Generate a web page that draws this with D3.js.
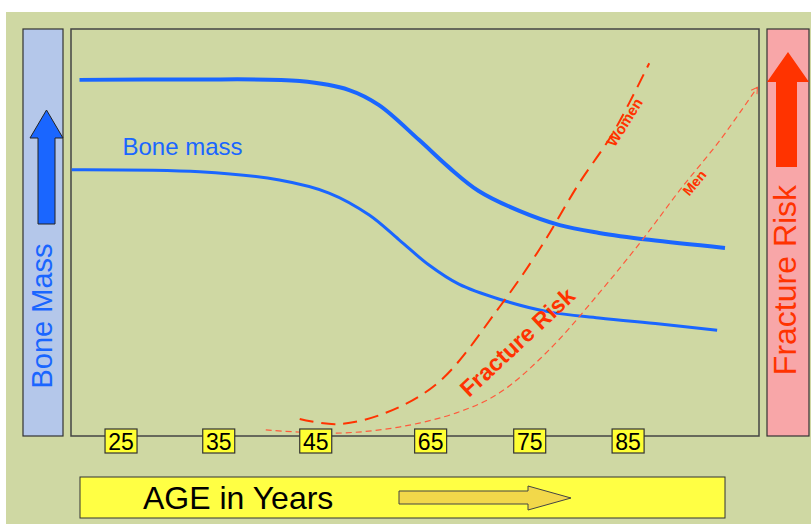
<!DOCTYPE html>
<html>
<head>
<meta charset="utf-8">
<script src="https://cdn.jsdelivr.net/npm/d3@7"></script>
<style>
  body { margin: 0; background: #fff; }
  text { font-family: "Liberation Sans", Arial, sans-serif; }
</style>
</head>
<body>
<div class="mainView"></div>
<script>
// tick labels on the age axis (spacing in the picture is not linear)
let tickAges = [25, 35, 45, 65, 75, 85];

// bone mass curves: [age, relative value 0..100]
let boneHigh = [[20.8,87.5],[32,87.6],[43.4,87.2],[50.9,85.0],[56.1,81.3],[63.1,72.7],[66.9,66.0],[69.9,60.2],[74.0,55.3],[78.1,51.8],[82.1,49.9],[87.2,48.2],[94.9,46.2]];
let boneLow = [[20.0,65.4],[33.1,64.9],[41.3,62.9],[47.4,59.7],[54.4,54.3],[59.6,48.2],[64.8,42.0],[67.9,37.3],[72.0,33.6],[77.0,30.5],[82.1,29.0],[88.3,27.5],[94.1,26.0]];

// fracture risk curves
let riskWomen = [[43.4,4.2],[48.7,2.9],[57.3,5.7],[65.9,13.3],[72.0,31.7],[76.0,45.7],[80.1,62.2],[83.5,74.4],[87.2,91.6]];
let riskMen = [[39.9,1.5],[48.7,0.7],[59.6,2.2],[67.9,5.9],[72.0,10.6],[77.0,21.1],[82.1,35.1],[86.5,48.2],[90.3,60.4],[94.4,72.7],[98.2,85.7]];

function chartConfiguration(){
    let width = 811, height = 524;
    let plot = { left: 71, right: 759, top: 29, bottom: 436 };
    let svg = d3.select(".mainView")
                .append("svg")
                .attr("width", width)
                .attr("height", height);
    return { width, height, plot, svg };
}

function chartScales(config){
    let { plot } = config;
    let w = plot.right - plot.left;
    // piecewise linear: label positions as fractions of plot width
    let xScale = d3.scaleLinear()
        .domain(tickAges)
        .range([0.072, 0.214, 0.355, 0.522, 0.666, 0.809].map(f => plot.left + f*w));
    let yScale = d3.scaleLinear()
        .domain([0, 100])
        .range([plot.bottom, plot.top]);
    return { xScale, yScale };
}

function drawFrame(config){
    let { svg, plot, width, height } = config;
    svg.append("rect")
        .attr("x", 6).attr("y", 12)
        .attr("width", width - 6).attr("height", height - 12)
        .style("fill", "#cfd8a3");

    // left side bar
    svg.append("rect")
        .attr("x", 23).attr("y", plot.top)
        .attr("width", 40).attr("height", plot.bottom - plot.top)
        .style("fill", "#b4c7ea").style("stroke", "#333").style("stroke-width", 1.2);
    svg.append("path")
        .attr("d", "M38,224 L38,138 L30,138 L46.5,110 L63,138 L55,138 L55,224 Z")
        .style("fill", "#1a66ff").style("stroke", "#222").style("stroke-width", 1);
    svg.append("text")
        .attr("transform", "translate(52,316) rotate(-90)")
        .attr("text-anchor", "middle")
        .style("font-size", "29px").style("fill", "#1a66ff")
        .text("Bone Mass");

    // right side bar
    svg.append("rect")
        .attr("x", 767).attr("y", plot.top)
        .attr("width", 42).attr("height", plot.bottom - plot.top)
        .style("fill", "#f8a6a8").style("stroke", "#333").style("stroke-width", 1.2);
    svg.append("path")
        .attr("d", "M776,167 L776,82 L767,82 L788,52 L809,82 L797,82 L797,167 Z")
        .style("fill", "#ff3300");
    svg.append("text")
        .attr("transform", "translate(796,280) rotate(-90)")
        .attr("text-anchor", "middle")
        .style("font-size", "32px").style("fill", "#ff3300")
        .text("Fracture Risk");

    // plot box
    svg.append("rect")
        .attr("x", plot.left).attr("y", plot.top)
        .attr("width", plot.right - plot.left).attr("height", plot.bottom - plot.top)
        .style("fill", "none").style("stroke", "#444").style("stroke-width", 1.5);

    // bottom age banner
    svg.append("rect")
        .attr("x", 80).attr("y", 477).attr("width", 645).attr("height", 41)
        .style("fill", "#ffff44").style("stroke", "#333").style("stroke-width", 1);
    svg.append("text")
        .attr("x", 143).attr("y", 509)
        .style("font-size", "32px").style("fill", "#000")
        .text("AGE in Years");
    svg.append("path")
        .attr("d", "M399,491 L528,491 L528,486 L571,498 L528,510 L528,504 L399,504 Z")
        .style("fill", "#f2d84a").style("stroke", "#444").style("stroke-width", 1);
}

function drawCurves(config, scales){
    let { svg } = config;
    let { xScale, yScale } = scales;
    let line = d3.line()
        .x(d => xScale(d[0]))
        .y(d => yScale(d[1]))
        .curve(d3.curveCatmullRom.alpha(0.5));

    svg.append("defs").append("marker")
        .attr("id", "arrowMen")
        .attr("markerUnits", "userSpaceOnUse")
        .attr("viewBox", "-8 -5 10 10")
        .attr("markerWidth", 10).attr("markerHeight", 10)
        .attr("orient", "auto")
        .append("path")
        .attr("d", "M-6,-3.5 L0,0 L-6,3.5")
        .style("fill", "none").style("stroke", "#ff5a3c").style("stroke-width", 1);

    svg.append("path").datum(boneHigh)
        .attr("d", line)
        .style("fill", "none").style("stroke", "#1a66ff").style("stroke-width", 4);
    svg.append("path").datum(boneLow)
        .attr("d", line)
        .style("fill", "none").style("stroke", "#1a66ff").style("stroke-width", 3);

    svg.append("path").datum(riskWomen)
        .attr("d", line)
        .style("fill", "none").style("stroke", "#ff3300").style("stroke-width", 2)
        .style("stroke-dasharray", "14,8");
    svg.append("path").datum(riskMen)
        .attr("d", line)
        .attr("marker-end", "url(#arrowMen)")
        .style("fill", "none").style("stroke", "#ff5a3c").style("stroke-width", 1.2)
        .style("stroke-dasharray", "6,4");

    // labels
    svg.append("text")
        .attr("x", xScale(25.2)).attr("y", yScale(69))
        .style("font-size", "24px").style("fill", "#1a66ff")
        .text("Bone mass");
    let labels = [
        { t: "Women", a: 84.7, v: 77.1, r: -58, s: 15 },
        { t: "Men", a: 91.8, v: 62.2, r: -50, s: 14 },
        { t: "Fracture Risk", a: 73.8, v: 23.1, r: -43, s: 23 }
    ];
    labels.forEach(l => {
        svg.append("text")
            .attr("transform", "translate(" + [xScale(l.a), yScale(l.v)] + ") rotate(" + l.r + ")")
            .attr("text-anchor", "middle")
            .attr("dy", "0.35em")
            .style("font-size", l.s + "px").style("font-weight", "bold")
            .style("fill", "#ff3300")
            .text(l.t);
    });
}

function drawAxis(config, scales){
    let { svg, plot } = config;
    let { xScale } = scales;
    let axis = d3.axisBottom(xScale).tickValues(tickAges).tickSize(0).tickPadding(0);
    let g = svg.append("g")
        .attr("transform", "translate(0," + plot.bottom + ")")
        .call(axis);
    g.select(".domain").remove();
    g.selectAll(".tick").each(function(){
        let t = d3.select(this);
        t.insert("rect", "text")
            .attr("x", -16).attr("y", -7).attr("width", 32).attr("height", 24)
            .style("fill", "#ffff33").style("stroke", "#333").style("stroke-width", 1.2);
        t.select("text")
            .attr("y", 5.5).attr("dy", "0.36em")
            .style("font-size", "23px").style("fill", "#000")
            .style("font-family", "'Liberation Sans', Arial, sans-serif");
    });
}

let config = chartConfiguration();
let scales = chartScales(config);
drawFrame(config);
drawCurves(config, scales);
drawAxis(config, scales);
</script>
</body>
</html>
